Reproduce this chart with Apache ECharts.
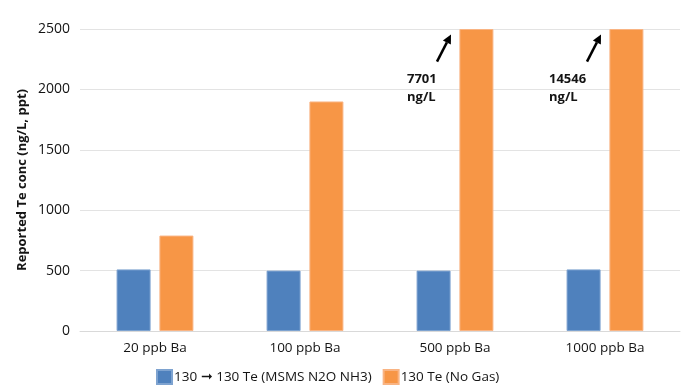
<!DOCTYPE html>
<html>
<head>
<meta charset="utf-8">
<script src="https://cdn.jsdelivr.net/npm/echarts@6/dist/echarts.min.js"></script>
<style>html,body{margin:0;padding:0;background:#fff}#c{width:692px;height:390px}</style>
</head>
<body>
<div id="c"></div>
<script>
const categories = ['20 ppb Ba', '100 ppb Ba', '500 ppb Ba', '1000 ppb Ba'];
const seriesNames = ['130 \u279E 130 Te (MSMS N2O NH3)', '130 Te (No Gas)'];
const msmsValues = [510, 500, 500, 510];
const noGasValues = [790, 1900, 2500, 2500];
const yTicks = [0, 500, 1000, 1500, 2000, 2500];
const annotations = [
  { category: '500 ppb Ba', lines: ['7701', 'ng/L'] },
  { category: '1000 ppb Ba', lines: ['14546', 'ng/L'] }
];

const FONT = 'Open Sans';
const TXT = '#141414';
const chart = echarts.init(document.getElementById('c'));
chart.setOption({
  animation: false,
  textStyle: { fontFamily: FONT },
  grid: { left: 80, right: 12, top: 29, bottom: 59 },
  legend: {
    left: 156, top: 369, padding: 0,
    itemWidth: 15, itemHeight: 14, itemGap: 11,
    icon: 'rect',
    textStyle: { fontFamily: FONT, fontSize: 13.5, color: TXT, padding: [0, 0, 0, -3] },
    data: seriesNames
  },
  xAxis: {
    type: 'category',
    data: categories,
    axisLine: { lineStyle: { color: '#d9d9d9', width: 1 } },
    axisTick: { show: false },
    axisLabel: { fontFamily: FONT, fontSize: 13.5, color: TXT, margin: 10 }
  },
  yAxis: {
    type: 'value',
    min: yTicks[0], max: yTicks[yTicks.length - 1], interval: 500,
    name: 'Reported Te conc (ng/L, ppt)',
    nameLocation: 'middle', nameGap: 51, nameMoveOverlap: false,
    nameTextStyle: { fontFamily: FONT, fontSize: 13, fontWeight: 'bold', color: TXT },
    axisLine: { show: false }, axisTick: { show: false },
    axisLabel: { fontFamily: FONT, fontSize: 14, color: TXT, margin: 10,
      formatter: function (v) { return String(v); } },
    splitLine: { lineStyle: { color: '#e3e3e3', width: 1 } }
  },
  series: [
    {
      name: seriesNames[0], type: 'bar', data: msmsValues,
      barWidth: 34, barGap: '26%',
      itemStyle: { color: '#4f81bd', borderColor: '#7ea3d0', borderWidth: 1 }
    },
    {
      name: seriesNames[1], type: 'bar', data: noGasValues,
      barWidth: 34,
      itemStyle: { color: '#f79646', borderColor: '#f9b483', borderWidth: 1 }
    }
  ]
});

const graphics = [];
annotations.forEach(function (a, i) {
  const idx = categories.indexOf(a.category);
  const head = chart.convertToPixel({ gridIndex: 0 }, [idx, 2455]);
  const tail = chart.convertToPixel({ gridIndex: 0 }, [idx, 2230]);
  const hx = head[0] - 4, hy = head[1];
  const tx = tail[0] - 18, ty = tail[1];
  const ang = Math.atan2(hy - ty, hx - tx);
  const L = 9, W = 4.5;
  const bx = hx - L * Math.cos(ang), by = hy - L * Math.sin(ang);
  graphics.push({
    type: 'line', silent: true,
    shape: { x1: tx, y1: ty, x2: bx, y2: by },
    style: { stroke: '#000', lineWidth: 2.5 }
  });
  graphics.push({
    type: 'polygon', silent: true,
    shape: { points: [[hx, hy],
      [bx + W * Math.sin(ang), by - W * Math.cos(ang)],
      [bx - W * Math.sin(ang), by + W * Math.cos(ang)]] },
    style: { fill: '#000' }
  });
  const textX = head[0] - (a.lines[0].length > 4 ? 56 : 48);
  graphics.push({
    type: 'text', silent: true,
    x: textX, y: ty + 9,
    style: {
      text: a.lines.join('\n'), fill: TXT,
      font: 'bold 13px "' + FONT + '"', lineHeight: 18,
      align: 'left', verticalAlign: 'top'
    }
  });
});
chart.setOption({ graphic: graphics });
</script>
</body>
</html>
